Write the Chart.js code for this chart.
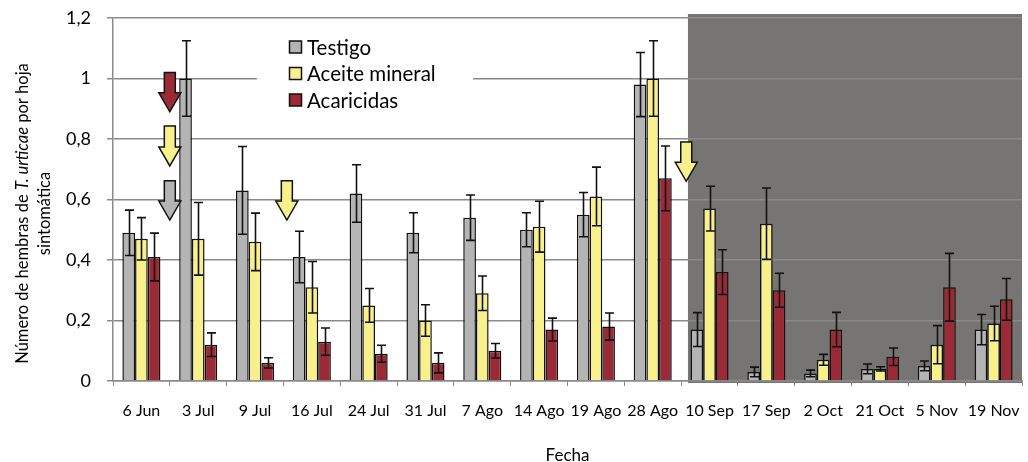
<!DOCTYPE html>
<html>
<head>
<meta charset="utf-8">
<script src="https://cdn.jsdelivr.net/npm/chart.js@4"></script>
<style>
  html, body { margin: 0; padding: 0; background: #fff; }
  #wrap { width: 1028px; height: 462px; }
</style>
</head>
<body>
<div id="wrap"><canvas id="mites" width="1028" height="462"></canvas></div>
<script>
// fechas de muestreo
const fechas = ['6 Jun', '3 Jul', '9 Jul', '16 Jul', '24 Jul', '31 Jul', '7 Ago', '14 Ago',
                '19 Ago', '28 Ago', '10 Sep', '17 Sep', '2 Oct', '21 Oct', '5 Nov', '19 Nov'];

const testigo    = [0.49, 1.00, 0.63, 0.41, 0.62, 0.49, 0.54, 0.50, 0.55, 0.98, 0.17, 0.03, 0.025, 0.04, 0.05, 0.17];
const testigoErr = [0.075, 0.125, 0.145, 0.085, 0.095, 0.066, 0.075, 0.056, 0.073, 0.106, 0.056, 0.016, 0.011, 0.016, 0.016, 0.05];

const aceite     = [0.47, 0.47, 0.46, 0.31, 0.25, 0.20, 0.29, 0.51, 0.61, 1.00, 0.57, 0.52, 0.07, 0.04, 0.12, 0.19];
const aceiteErr  = [0.07, 0.12, 0.095, 0.085, 0.056, 0.052, 0.057, 0.084, 0.097, 0.125, 0.074, 0.118, 0.018, 0.007, 0.063, 0.057];

const acaricidas    = [0.41, 0.12, 0.06, 0.13, 0.09, 0.06, 0.10, 0.17, 0.18, 0.67, 0.36, 0.30, 0.17, 0.08, 0.31, 0.27];
const acaricidasErr = [0.079, 0.039, 0.017, 0.045, 0.028, 0.033, 0.024, 0.038, 0.045, 0.107, 0.074, 0.056, 0.057, 0.029, 0.112, 0.069];

// flechas de tratamiento: posicion en el eje de fechas (indice) y valores de inicio/punta
const flechaPos   = [0.5, 0.5, 0.5, 2.56, 9.59];
const flechaTop   = [1.02, 0.843, 0.662, 0.662, 0.79];
const flechaTip   = [0.89, 0.711, 0.532, 0.532, 0.66];
const flechaSerie = [2, 1, 0, 1, 1];

// inicio de la zona sombreada (indice de fecha)
const sombraDesde = 9.62;

const colores = ['#b4b4b4', '#f8f08b', '#9a2b36'];
const errores = [testigoErr, aceiteErr, acaricidasErr];
const FONT = 'Lato, "Noto Sans", sans-serif';

const shadePlugin = {
    id: 'shade',
    beforeDraw(chart) {
        const { ctx, chartArea, scales } = chart;
        const x0 = scales.x.getPixelForValue(sombraDesde);
        ctx.save();
        ctx.fillStyle = '#767574';
        ctx.fillRect(x0, chartArea.top - 4, chartArea.right - x0, chartArea.bottom - chartArea.top + 6);
        ctx.restore();
    }
};

const legendPlugin = {
    id: 'boxLegend',
    beforeDatasetsDraw(chart) {
        const { ctx, chartArea } = chart;
        const left = chartArea.left + 144;
        const top = chartArea.top + 12;
        ctx.save();
        ctx.fillStyle = '#fff';
        ctx.fillRect(left, top, 216, 86);
        ctx.font = '20.5px ' + FONT;
        ctx.textBaseline = 'middle';
        chart.data.datasets.forEach((ds, i) => {
            const cy = top + 17 + i * 26.5;
            ctx.fillStyle = ds.backgroundColor;
            ctx.fillRect(left + 32.5, cy - 6, 12, 12);
            ctx.strokeStyle = '#111';
            ctx.lineWidth = 1.5;
            ctx.strokeRect(left + 32.5, cy - 6, 12, 12);
            ctx.fillStyle = '#000';
            ctx.fillText(ds.label, left + 50, cy + 1);
        });
        ctx.restore();
    }
};

const errorBarPlugin = {
    id: 'errorBars',
    afterDatasetsDraw(chart) {
        const { ctx, scales } = chart;
        ctx.save();
        ctx.strokeStyle = '#111';
        ctx.lineWidth = 1.6;
        chart.data.datasets.forEach((ds, i) => {
            const meta = chart.getDatasetMeta(i);
            meta.data.forEach((bar, j) => {
                const v = ds.data[j];
                const e = errores[i][j];
                const yHi = scales.y.getPixelForValue(v + e);
                const yLo = scales.y.getPixelForValue(Math.max(0, v - e));
                const x = Math.round(bar.x) + 0.5;
                ctx.beginPath();
                ctx.moveTo(x, yHi);
                ctx.lineTo(x, yLo);
                ctx.moveTo(x - 4.5, yHi);
                ctx.lineTo(x + 4.5, yHi);
                ctx.moveTo(x - 4.5, yLo);
                ctx.lineTo(x + 4.5, yLo);
                ctx.stroke();
            });
        });
        ctx.restore();
    }
};

const arrowPlugin = {
    id: 'arrows',
    afterDatasetsDraw(chart) {
        const { ctx, scales } = chart;
        ctx.save();
        flechaPos.forEach((p, k) => {
            const cx = scales.x.getPixelForValue(p);
            const yTop = scales.y.getPixelForValue(flechaTop[k]);
            const yTip = scales.y.getPixelForValue(flechaTip[k]);
            const headH = 19, shaft = 5.5, head = 11;
            ctx.beginPath();
            ctx.moveTo(cx - shaft, yTop);
            ctx.lineTo(cx + shaft, yTop);
            ctx.lineTo(cx + shaft, yTip - headH);
            ctx.lineTo(cx + head, yTip - headH);
            ctx.lineTo(cx, yTip);
            ctx.lineTo(cx - head, yTip - headH);
            ctx.lineTo(cx - shaft, yTip - headH);
            ctx.closePath();
            ctx.fillStyle = colores[flechaSerie[k]];
            ctx.fill();
            ctx.strokeStyle = '#111';
            ctx.lineWidth = 1.5;
            ctx.stroke();
        });
        ctx.restore();
    }
};

const yTitlePlugin = {
    id: 'yTitle',
    afterDraw(chart) {
        const { ctx, chartArea } = chart;
        const cy = (chartArea.top + chartArea.bottom) / 2 + 14;
        const parts = [
            ['Número de hembras de ', 'normal'],
            ['T. urticae', 'italic'],
            [' por hoja', 'normal']
        ];
        ctx.save();
        ctx.fillStyle = '#000';
        ctx.textBaseline = 'middle';
        ctx.translate(23, cy);
        ctx.rotate(-Math.PI / 2);
        let total = 0;
        parts.forEach(p => {
            ctx.font = p[1] + ' 16.5px ' + FONT;
            total += ctx.measureText(p[0]).width;
        });
        let x = -total / 2;
        ctx.textAlign = 'left';
        parts.forEach(p => {
            ctx.font = p[1] + ' 16.5px ' + FONT;
            ctx.fillText(p[0], x, 0);
            x += ctx.measureText(p[0]).width;
        });
        ctx.font = '16.5px ' + FONT;
        ctx.textAlign = 'center';
        ctx.fillText('sintomática', 0, 22);
        ctx.restore();
    }
};

const ctx = document.getElementById('mites').getContext('2d');
const chart = new Chart(ctx, {
    type: 'bar',
    data: {
        labels: fechas,
        datasets: [
            { label: 'Testigo', data: testigo, backgroundColor: colores[0] },
            { label: 'Aceite mineral', data: aceite, backgroundColor: colores[1] },
            { label: 'Acaricidas', data: acaricidas, backgroundColor: colores[2] }
        ]
    },
    options: {
        responsive: false,
        animation: false,
        devicePixelRatio: 1,
        layout: { padding: { left: 0, top: 18, right: 6, bottom: 0 } },
        datasets: {
            bar: {
                borderColor: '#111',
                borderWidth: 1.5,
                categoryPercentage: 0.67,
                barPercentage: 1.0
            }
        },
        plugins: {
            legend: { display: false },
            tooltip: { enabled: false }
        },
        scales: {
            x: {
                grid: {
                    offset: true,
                    drawOnChartArea: false,
                    drawTicks: true,
                    tickLength: 5,
                    color: '#8a8a8a'
                },
                border: { color: '#8a8a8a', width: 1.5 },
                ticks: {
                    color: '#000',
                    font: { family: FONT, size: 16 },
                    padding: 15,
                    maxRotation: 0,
                    autoSkip: false
                },
                title: {
                    display: true,
                    text: 'Fecha',
                    color: '#000',
                    font: { family: FONT, size: 17, lineHeight: 0.8 },
                    padding: { top: 0, bottom: 0 }
                },
                afterFit(scale) {
                    scale.height = 81;
                    scale.paddingLeft = 0;
                    scale.paddingRight = 0;
                }
            },
            y: {
                min: 0,
                max: 1.2,
                grid: {
                    color: '#8a8a8a',
                    lineWidth: 1.5,
                    tickLength: 6
                },
                border: { color: '#8a8a8a', width: 1.5 },
                ticks: {
                    stepSize: 0.2,
                    color: '#000',
                    padding: 16,
                    font: { family: FONT, size: 18 },
                    callback: v => String(Math.round(v * 10) / 10).replace('.', ',')
                },
                afterFit(scale) {
                    scale.width = 113;
                    scale.paddingTop = 0;
                    scale.paddingBottom = 0;
                }
            }
        }
    },
    plugins: [shadePlugin, legendPlugin, errorBarPlugin, arrowPlugin, yTitlePlugin]
});
</script>
</body>
</html>
